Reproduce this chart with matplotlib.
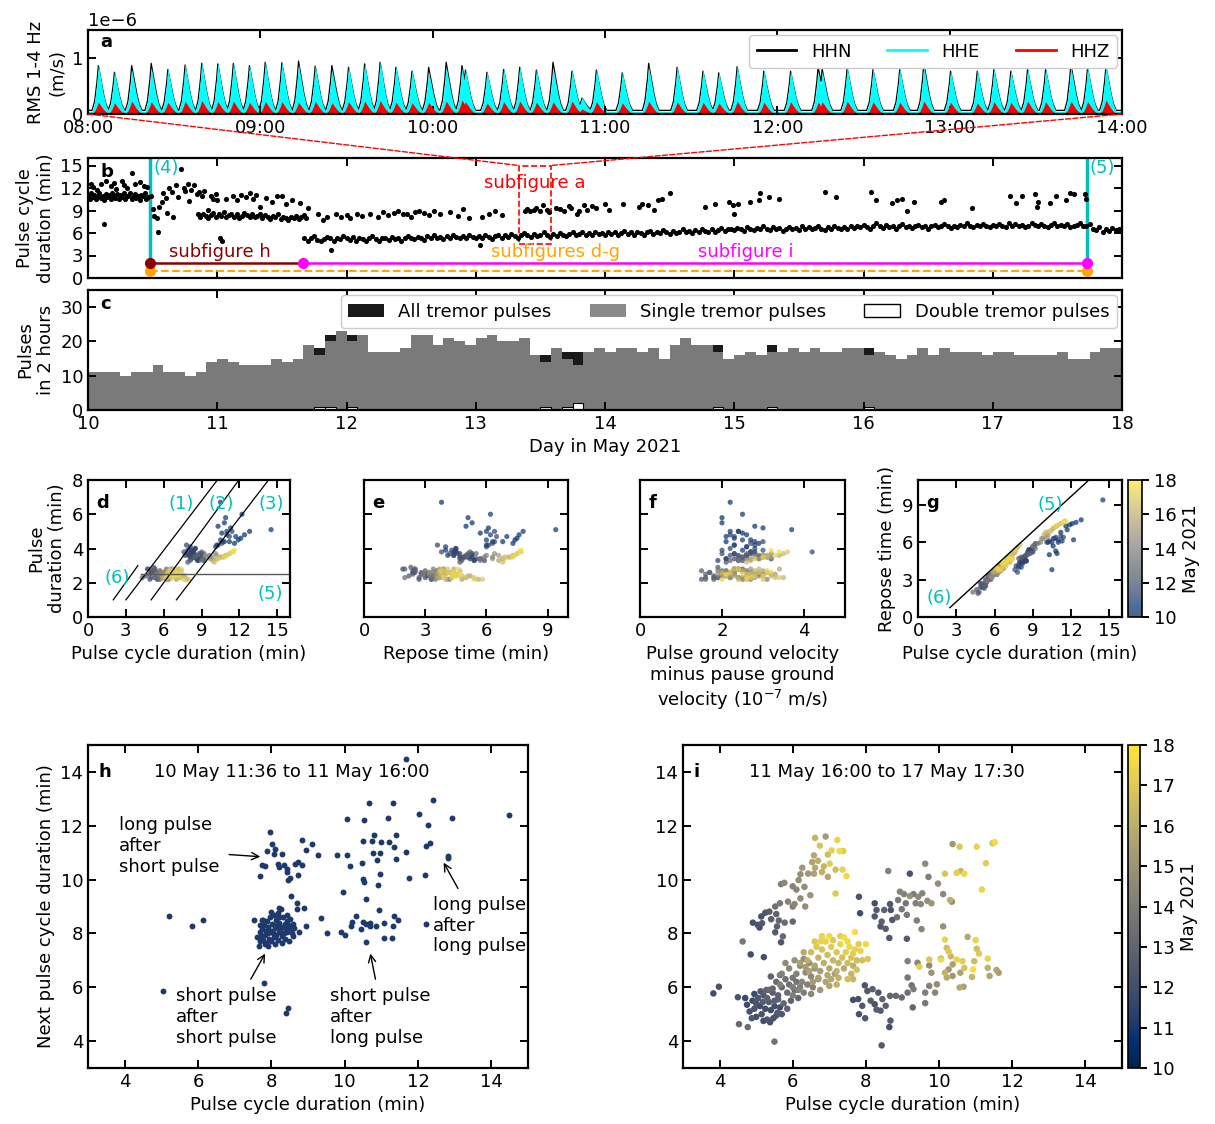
import numpy as np
import matplotlib
matplotlib.use("Agg")
import matplotlib.pyplot as plt
from matplotlib.patches import Rectangle, ConnectionPatch, Patch
from matplotlib.lines import Line2D
from matplotlib.cm import ScalarMappable
from matplotlib.colors import Normalize

# ---------------- panel a: RMS pulses 13 May 08:00-14:00 ----------------
# peak time (minutes after 08:00) and peak RMS (1e-6 m/s) per channel
peak_min = [3.6, 9.2, 15.2, 22.0, 27.8, 33.8, 39.6, 45.2, 50.6, 56.2,
            61.7, 67.5, 73.3, 79.1, 84.9, 90.7, 96.3, 101.7, 107.2, 112.8,
            118.6, 124.7, 130.2, 131.4, 138.9, 144.7, 150.3, 156.1, 161.9, 168.5,
            172.0, 177.0, 186.0, 195.2, 205.1, 214.1, 219.6, 226.0, 235.3, 244.6,
            254.2, 255.6, 264.3, 273.3, 282.6, 291.0, 300.3, 309.6, 315.4, 321.3,
            327.1, 333.4, 342.2, 348.0, 354.4]
hhe_peak = [0.84, 0.72, 0.74, 0.78, 0.77, 0.85, 0.88, 0.87, 0.88, 0.84,
            0.90, 0.89, 0.84, 0.83, 0.74, 0.81, 0.87, 0.90, 0.81, 0.74,
            0.71, 0.80, 0.78, 0.76, 0.72, 0.77, 0.81, 0.76, 0.78, 0.74,
            0.25, 0.76, 0.71, 0.80, 0.81, 0.74, 0.71, 0.82, 0.74, 0.74,
            0.70, 0.72, 0.80, 0.77, 0.77, 0.80, 0.74, 0.74, 0.77, 0.74,
            0.77, 0.77, 0.79, 0.80, 0.83]
hhn_peak = [0.80, 0.68, 0.80, 0.84, 0.73, 0.81, 0.84, 0.83, 0.84, 0.80,
            0.86, 0.85, 0.88, 0.79, 0.80, 0.77, 0.83, 0.86, 0.77, 0.70,
            0.77, 0.86, 0.80, 0.72, 0.68, 0.73, 0.77, 0.72, 0.86, 0.70,
            0.22, 0.72, 0.67, 0.84, 0.77, 0.70, 0.67, 0.78, 0.70, 0.70,
            0.78, 0.74, 0.76, 0.73, 0.73, 0.84, 0.70, 0.70, 0.73, 0.70,
            0.73, 0.73, 0.83, 0.76, 0.79]
hhz_peak = [0.20, 0.19, 0.22, 0.21, 0.20, 0.22, 0.23, 0.21, 0.22, 0.20,
            0.22, 0.21, 0.20, 0.22, 0.19, 0.21, 0.22, 0.23, 0.20, 0.19,
            0.20, 0.22, 0.24, 0.21, 0.19, 0.21, 0.22, 0.20, 0.21, 0.22,
            0.08, 0.21, 0.19, 0.22, 0.21, 0.20, 0.19, 0.22, 0.20, 0.21,
            0.20, 0.21, 0.22, 0.21, 0.20, 0.22, 0.20, 0.19, 0.21, 0.20,
            0.22, 0.21, 0.22, 0.21, 0.24]
base_hhe, base_hhn, base_hhz = 0.05, 0.065, 0.01

# ---------------- panel b: pulse cycle durations ----------------
band1_start, band1_step = 10.0, 0.0125
band1_vals = [11.0, 10.6, 11.3, 10.8, 11.1, 10.5, 10.9, 11.4, 10.7, 11.0,
              10.4, 11.2, 10.8, 11.1, 10.6, 11.3, 10.9, 10.7, 11.2, 10.5,
              11.1, 10.8, 11.4, 10.6, 11.0, 10.9, 11.3, 10.5, 10.8, 11.2,
              10.7, 11.0, 10.4, 11.1, 10.9, 11.3, 10.6, 10.8]
band2_start, band2_step = 10.85, 0.02
band2_vals = [8.5, 8.1, 8.6, 8.3, 8.0, 8.4, 8.7, 8.2, 8.5, 8.3,
              8.8, 8.1, 8.4, 8.6, 8.2, 8.5, 8.0, 8.3, 8.7, 8.4,
              8.2, 8.5, 8.1, 8.3, 8.6, 8.0, 8.4, 8.2, 7.9, 8.3,
              8.1, 8.5, 7.9, 8.2, 8.0, 7.8, 8.2, 8.0, 8.3, 7.9,
              8.1, 8.4, 8.0]
band3_start, band3_step = 11.675, 0.025
band3_vals = [5.4, 5.0, 5.3, 5.6, 5.1, 4.9, 5.2, 5.5, 5.3, 5.0, 5.4, 5.2, 5.6,
              5.3, 5.1, 5.5, 5.0, 5.4, 5.2, 4.9, 5.3, 5.6, 5.2, 5.0, 5.4, 5.3, 5.1, 5.5, 5.2, 5.4, 5.0, 5.3, 5.6,
              5.4, 5.2, 5.5, 5.3, 5.1, 5.6, 5.4, 5.7, 5.3, 5.5, 5.2, 5.6, 5.4, 5.8, 5.5, 5.3, 5.6, 5.4, 5.7, 5.5,
              5.4, 5.6, 5.3, 5.7, 5.5, 5.2, 5.6, 5.8, 5.4, 5.7, 5.5, 5.9, 5.6, 5.4, 5.8, 6.0, 5.7, 5.5, 5.9, 5.6,
              5.8, 6.1, 5.7, 5.5, 5.9, 5.6, 6.0, 5.8, 5.6, 5.9, 6.1, 5.7, 5.9, 6.2, 5.8, 6.0, 5.7, 6.1, 5.9, 6.0,
              5.8, 6.1, 5.9, 6.2, 5.7, 6.0, 6.3, 5.9, 6.1, 5.8, 6.2, 6.0, 5.7, 6.1, 6.3, 5.9, 6.2, 6.0, 6.4, 6.1,
              5.9, 6.3, 6.0, 6.2, 6.5, 6.1, 6.3, 6.0, 6.4, 6.2, 6.6, 6.3, 6.1, 6.5, 6.2, 6.4, 6.7, 6.3, 6.5, 6.6,
              6.4, 6.7, 6.5, 6.3, 6.8, 6.6, 6.4, 6.7, 6.5, 6.9, 6.6, 6.4, 6.8, 6.5, 6.7, 6.3, 6.6, 6.8, 6.5, 6.7,
              6.4, 6.9, 6.6, 6.8, 6.5, 6.7, 6.9, 6.6, 6.4, 6.8, 6.6, 7.0, 6.7, 6.5, 6.8, 6.6, 6.9, 6.7, 7.0, 6.8,
              7.1, 6.8, 6.6, 7.0, 7.3, 6.9, 6.7, 7.1, 6.8, 7.0, 6.6, 6.9, 7.2, 6.8, 7.0, 6.7, 6.9, 7.1, 6.8, 7.0,
              6.6, 6.9, 7.1, 6.8, 7.0, 7.2, 6.9, 6.7, 7.0, 6.8, 7.1, 6.9, 7.3, 7.0, 6.8, 7.1, 6.9, 7.2, 7.0, 6.8,
              7.1, 6.9, 7.2, 7.0, 6.8, 7.3, 7.0, 7.2, 6.9, 7.1, 6.8, 7.0, 7.3, 7.1, 6.9, 7.2, 7.0, 6.8, 7.1, 7.3,
              6.9, 7.1, 7.0, 7.2, 6.8, 7.0, 7.1, 7.3, 7.0, 6.9, 7.2, 6.6, 6.4, 6.8, 6.2, 6.5, 6.3, 6.7, 6.4, 6.6,
              6.5]
b_sparse_day = [10.02, 10.04, 10.07, 10.10, 10.12, 10.14, 10.18, 10.20, 10.22, 10.26,
                10.28, 10.30, 10.34, 10.36, 10.40, 10.43, 10.46, 10.49, 10.50, 10.51,
                10.53, 10.55, 10.54, 10.57, 10.58, 10.60, 10.61, 10.63, 10.65, 10.66,
                10.68, 10.70, 10.72, 10.74, 10.75, 10.77, 10.78, 10.80, 10.82, 10.84,
                10.86, 10.88, 10.90, 10.93, 10.95, 10.97, 10.99, 11.00, 11.02, 11.04,
                11.07, 11.12, 11.15, 11.18, 11.22, 11.25, 11.28, 11.30, 11.33, 11.38,
                11.42, 11.46, 11.50, 11.53, 11.58, 11.64, 11.70,
                11.78, 11.82, 11.85, 11.88, 11.92, 11.96, 12.00, 12.03, 12.08, 12.12,
                12.18, 12.24, 12.28, 12.32, 12.37, 12.40, 12.44, 12.47, 12.50, 12.53,
                12.56, 12.60, 12.64, 12.68, 12.72, 12.80, 12.86, 12.90, 12.95, 13.03,
                13.05, 13.10, 13.15, 13.20,
                13.38, 13.40, 13.42, 13.45, 13.47, 13.50, 13.52, 13.55, 13.57, 13.62,
                13.65, 13.68, 13.72, 13.74, 13.78, 13.80, 13.84, 13.86, 13.90, 13.93,
                14.00, 14.03, 14.14, 14.26, 14.29, 14.33, 14.38, 14.41, 14.44, 14.50,
                14.77, 14.85, 14.96, 14.99, 15.00, 15.03, 15.12, 15.19, 15.20, 15.27,
                15.35, 15.70, 15.79, 16.06, 16.10, 16.22, 16.26, 16.30, 16.34, 16.39,
                16.60, 16.62, 16.84, 17.13, 17.18, 17.23, 17.33, 17.35, 17.34, 17.44,
                17.49, 17.57, 17.60, 17.63, 17.71, 17.72]
b_sparse_val = [12.5, 12.2, 11.8, 12.6, 7.2, 12.9, 12.3, 12.7, 11.9, 13.0,
                12.4, 12.0, 14.0, 12.5, 12.8, 12.3, 12.1, 11.0, 9.2, 8.3,
                8.0, 9.5, 6.1, 10.2, 11.3, 10.7, 8.7, 12.0, 11.5, 8.2,
                12.4, 10.8, 14.5, 12.0, 11.6, 12.6, 10.3, 11.8, 12.4, 11.2,
                11.5, 10.9, 11.6, 9.1, 11.0, 10.5, 11.2, 10.4, 5.3, 4.9,
                10.6, 11.0, 10.4, 11.1, 10.8, 11.4, 10.6, 11.1, 9.5, 10.7,
                10.2, 10.9, 11.0, 9.9, 10.4, 10.0, 9.4,
                8.5, 7.8, 8.2, 3.8, 8.6, 8.1, 8.4, 8.0, 8.6, 8.3,
                8.5, 8.2, 8.8, 8.4, 8.7, 8.9, 8.5, 8.6, 8.2, 8.8,
                9.0, 8.7, 8.4, 8.9, 8.5, 8.8, 8.3, 9.2, 8.0, 4.4,
                8.1, 8.6, 9.0, 8.4,
                9.0, 9.2, 8.9, 9.1, 9.4, 9.0, 9.7, 9.1, 8.8, 9.3,
                9.2, 9.0, 9.6, 9.3, 8.6, 9.0, 9.8, 9.1, 9.6, 9.4,
                9.9, 9.1, 9.9, 9.5, 9.9, 9.7, 9.1, 10.4, 10.6, 11.4,
                9.5, 9.9, 10.2, 9.7, 8.6, 9.9, 10.2, 10.4, 11.3, 10.8,
                10.6, 11.5, 10.8, 11.5, 10.4, 10.0, 10.4, 10.6, 9.0, 10.2,
                10.2, 10.4, 9.4, 10.9, 10.0, 10.9, 11.2, 10.2, 9.5, 10.0,
                10.9, 10.4, 11.3, 11.2, 11.2, 10.6]

# subfigure time windows (day in May 2021)
h_start = 10 + (11 + 36 / 60) / 24
h_end = 11 + 16 / 24
i_end = 17 + (17 + 30 / 60) / 24
zoom_start = 13 + 8 / 24
zoom_end = 13 + 14 / 24

# ---------------- panel c: pulses in 2 hour bins ----------------
single_counts = [11, 11, 11, 10, 11, 11, 13, 11, 11, 10,
                 11, 14, 15, 14, 13, 13, 13, 15, 14, 15,
                 19, 16, 20, 23, 20, 22, 17, 17, 17, 18,
                 22, 22, 19, 21, 20, 19, 21, 22, 20, 20,
                 21, 16, 14, 18, 15, 13, 17, 18, 17, 18,
                 18, 17, 18, 15, 19, 21, 19, 19, 17, 15,
                 16, 17, 16, 17, 17, 18, 17, 18, 17, 17,
                 18, 18, 16, 17, 16, 15, 16, 18, 16, 18,
                 17, 17, 17, 16, 17, 17, 16, 16, 16, 16,
                 17, 15, 15, 17, 18, 18]
double_counts = [0] * 96
for k in [21, 22, 24, 42, 44, 58, 63, 72]:
    double_counts[k] = 1
double_counts[45] = 2

# ---------------- panels d-g: pulses 10 May 11:36 to 17 May 17:30 ----------------
dg_day = [10.50, 10.52, 10.54, 10.56, 10.58, 10.60, 10.62, 10.64, 10.66, 10.68, 10.70, 10.72, 10.74, 10.76, 10.78, 10.80, 10.82, 10.84,
          10.86, 10.89, 10.92, 10.95, 10.98, 11.01, 11.04, 11.07, 11.10, 11.13, 11.16, 11.19, 11.22, 11.25, 11.28,
          11.31, 11.34, 11.37, 11.40, 11.43, 11.46, 11.49, 11.52, 11.55, 11.58, 11.61, 11.64, 11.67, 11.70, 11.72,
          10.90, 11.00, 11.10, 11.20, 11.30, 11.40, 11.50, 11.60,
          11.75, 11.79, 11.83, 11.87, 11.91, 11.95, 11.99, 12.03, 12.07, 12.11, 12.15, 12.19, 12.23, 12.27, 12.31,
          12.35, 12.39, 12.43, 12.47, 12.51, 12.55, 12.59, 12.63, 12.67, 12.71, 12.75, 12.79, 12.83, 12.87, 12.91,
          11.80, 11.95, 12.10, 12.25, 12.40, 12.55, 12.70, 12.85, 13.00, 13.10,
          13.05, 13.12, 13.19, 13.26, 13.33, 13.40, 13.47, 13.54, 13.61, 13.68, 13.75, 13.82, 13.89, 13.96, 14.03,
          14.10, 14.17, 14.24, 14.31, 14.38, 14.45, 14.52, 14.59, 14.66, 14.73, 14.80, 14.87, 14.94, 14.98, 15.00,
          13.40, 13.55, 13.70, 13.85, 14.20, 14.50, 14.85, 15.20,
          15.05, 15.12, 15.19, 15.26, 15.33, 15.40, 15.47, 15.54, 15.61, 15.68, 15.75, 15.82, 15.89, 15.96, 16.03,
          16.10, 16.17, 16.24, 16.31, 16.38, 16.45, 16.52, 16.59, 16.66, 16.73, 16.80, 16.87, 16.94, 17.01, 17.08,
          17.15, 17.22, 17.29, 17.36, 17.43, 17.50, 17.57, 17.62, 17.67, 17.71,
          15.30, 15.50, 15.70, 15.90, 16.10, 16.30, 16.50, 16.70, 16.90, 17.10, 17.30, 17.45, 17.60, 17.70]
dg_cycle = [10.6, 11.2, 10.3, 12.1, 10.9, 11.6, 12.8, 10.5, 11.9, 10.8, 12.4, 11.3, 10.2, 14.5, 11.7, 12.2, 10.7, 11.0,
            8.2, 8.6, 7.9, 8.4, 9.0, 8.1, 8.7, 8.3, 7.7, 8.9, 8.5, 8.0, 8.8, 8.2, 9.2,
            8.4, 7.8, 8.6, 8.3, 9.1, 8.0, 8.5, 8.7, 7.9, 8.4, 8.2, 8.9, 7.6, 8.1, 8.3,
            10.5, 11.0, 10.3, 11.4, 10.8, 10.1, 11.2, 10.6,
            5.0, 5.3, 4.7, 5.5, 5.1, 4.9, 5.6, 5.2, 4.6, 5.4, 5.0, 5.7, 5.3, 4.8, 5.5,
            5.1, 5.8, 5.2, 4.9, 5.6, 5.3, 5.0, 5.7, 5.4, 5.9, 5.2, 5.5, 5.8, 5.3, 4.3,
            8.2, 8.6, 7.9, 8.8, 8.4, 9.0, 8.1, 8.5, 8.7, 9.2,
            5.8, 6.3, 5.5, 6.0, 6.6, 5.7, 6.2, 5.9, 6.4, 5.6, 6.1, 6.5, 5.8, 6.3, 6.0,
            5.4, 6.2, 6.7, 5.9, 6.1, 6.4, 5.7, 6.3, 6.0, 6.6, 5.8, 6.2, 6.5, 5.9, 6.1,
            9.1, 9.4, 9.0, 9.6, 9.8, 10.1, 9.7, 10.2,
            6.6, 7.3, 6.1, 7.0, 6.4, 7.6, 6.8, 5.9, 7.2, 6.5, 7.8, 6.3, 6.9, 7.4, 6.0,
            7.1, 6.7, 7.5, 6.2, 7.0, 6.8, 7.7, 6.4, 7.2, 6.6, 8.0, 6.9, 6.3, 7.3, 6.7,
            7.1, 6.5, 7.6, 6.8, 7.0, 6.2, 7.4, 6.9, 7.2, 6.6,
            10.2, 10.6, 9.9, 10.9, 10.4, 11.2, 10.0, 10.7, 11.5, 10.3, 11.0, 10.8, 11.4, 11.6]
dg_pulse = [4.9, 4.4, 5.3, 4.6, 5.8, 4.3, 5.0, 6.7, 4.5, 5.5, 4.8, 5.2, 4.2, 5.1, 4.7, 6.0, 4.4, 5.0,
            3.8, 3.4, 3.9, 3.5, 3.7, 4.1, 3.3, 3.8, 3.6, 3.4, 4.0, 3.6, 3.5, 3.9, 3.3,
            3.7, 4.2, 3.5, 3.8, 3.4, 3.6, 4.0, 3.3, 3.7, 3.9, 3.5, 3.6, 3.8, 3.4, 3.7,
            4.5, 4.8, 4.2, 5.0, 4.4, 4.1, 4.7, 4.3,
            2.6, 2.3, 2.8, 2.4, 2.7, 2.2, 2.5, 2.9, 2.4, 2.6, 2.3, 2.7, 2.5, 2.8, 2.2,
            2.6, 2.4, 2.7, 2.5, 2.3, 2.8, 2.6, 2.4, 2.5, 2.3, 2.7, 2.2, 2.6, 2.8, 2.3,
            3.4, 3.6, 3.2, 3.7, 3.5, 3.8, 3.3, 3.5, 3.6, 3.7,
            2.4, 2.7, 2.5, 2.3, 2.6, 2.2, 2.8, 2.4, 2.6, 2.3, 2.5, 2.7, 2.4, 2.2, 2.6,
            2.5, 2.3, 2.8, 2.4, 2.6, 2.2, 2.5, 2.7, 2.4, 2.3, 2.6, 2.5, 2.8, 2.3, 2.5,
            3.4, 3.5, 3.3, 3.6, 3.5, 3.7, 3.4, 3.6,
            2.6, 2.3, 2.5, 2.2, 2.7, 2.4, 2.6, 2.3, 2.8, 2.5, 2.2, 2.6, 2.4, 2.7, 2.3,
            2.5, 2.8, 2.4, 2.2, 2.6, 2.5, 2.3, 2.7, 2.4, 2.6, 2.2, 2.8, 2.5, 2.3, 2.6,
            2.4, 2.7, 2.2, 2.5, 2.6, 2.3, 2.8, 2.4, 2.5, 2.3,
            3.4, 3.5, 3.3, 3.6, 3.5, 3.7, 3.2, 3.5, 3.8, 3.4, 3.6, 3.5, 3.8, 3.9]
dg_amp = [2.5, 2.1, 2.8, 2.3, 2.0, 2.9, 2.4, 2.2, 2.7, 2.0, 2.6, 3.0, 2.3, 3.7, 2.1, 2.5, 2.8, 2.2,
          2.7, 2.1, 2.5, 3.0, 2.3, 2.6, 1.9, 2.8, 2.4, 3.2, 2.2, 2.6, 2.9, 2.0, 2.5,
          2.7, 2.3, 3.1, 4.2, 2.1, 2.6, 2.8, 2.4, 2.0, 3.0, 2.5, 2.2, 2.7, 2.9, 2.3,
          2.5, 2.2, 2.8, 2.4, 3.0, 2.6, 2.3, 2.7,
          2.0, 1.6, 2.3, 1.8, 2.5, 1.5, 2.1, 1.9, 2.6, 1.7, 2.2, 2.0, 1.6, 2.4, 1.8,
          2.7, 2.1, 1.5, 2.3, 1.9, 2.5, 1.7, 2.0, 2.2, 1.8, 2.6, 1.6, 2.1, 2.4, 1.9,
          2.3, 2.6, 2.1, 2.8, 2.4, 2.7, 2.2, 2.5, 2.9, 2.6,
          2.6, 2.1, 2.9, 2.4, 2.0, 2.7, 2.3, 3.0, 2.2, 2.5, 2.8, 1.9, 2.6, 3.1, 2.3,
          2.0, 2.7, 2.4, 2.9, 2.2, 2.5, 3.0, 2.1, 2.6, 2.8, 2.3, 1.9, 2.7, 2.4, 3.2,
          2.6, 2.9, 2.4, 3.0, 2.8, 3.2, 2.7, 3.1,
          2.9, 2.2, 3.3, 2.5, 3.0, 2.1, 2.7, 2.4, 3.4, 2.0, 2.6, 3.1, 2.3, 2.8, 3.5,
          2.2, 2.9, 3.2, 2.4, 2.0, 2.7, 3.3, 2.5, 2.1, 2.9, 3.0, 2.3, 2.6, 3.4, 2.2,
          2.8, 3.1, 2.0, 2.5, 3.2, 2.7, 2.4, 3.0, 2.1, 2.6,
          2.9, 3.2, 2.7, 3.4, 3.0, 3.5, 2.6, 3.1, 3.6, 2.8, 3.3, 3.0, 3.4, 3.2]

# ---------------- panel h: next vs current cycle, 10 May 11:36 - 11 May 16:00 ----------------
h_cycle = [11.68, 10.67, 11.31, 12.42, 10.06, 10.54, 11.19, 12.04, 12.28, 12.93,
           14.49, 7.96, 10.49, 10.75, 10.80, 11.41, 11.20, 10.98, 12.34, 12.21,
           11.34, 8.84, 9.10, 8.03, 8.09, 7.88, 8.95, 9.26, 8.30, 8.07,
           9.78, 10.07, 10.77, 10.96, 11.66, 12.83, 12.83, 11.41, 10.88, 7.74,
           7.83, 8.18, 8.34, 8.43, 8.64, 8.84, 8.72, 10.15, 10.48, 8.20,
           8.44, 8.72, 7.68, 8.45, 8.50, 10.51, 10.54, 10.96, 11.76, 12.20,
           10.91, 9.96, 8.53, 10.59, 8.69, 10.94, 8.88, 8.69, 8.22, 5.20,
           6.14, 5.85, 7.54, 7.75, 9.36, 10.30, 10.20, 10.17, 10.49, 10.68,
           10.70, 10.59, 11.06, 11.34, 11.45, 11.31, 12.23, 10.85, 10.45, 8.95,
           8.76, 9.52, 9.89, 10.00, 11.08, 11.29, 10.59, 7.80, 5.04, 8.45,
           8.40,
           7.62, 7.65, 7.68, 7.70, 7.72, 7.75, 7.78, 7.80, 7.82, 7.85,
           7.86, 7.88, 7.90, 7.92, 7.94, 7.96, 7.98, 8.00, 8.02, 8.04,
           8.06, 8.08, 8.10, 8.12, 8.14, 8.16, 8.18, 8.20, 8.22, 8.24,
           8.26, 8.28, 8.30, 8.32, 8.34, 8.36, 8.38, 8.40, 8.42, 8.44,
           8.46, 8.48, 8.50, 8.52, 8.55, 8.58, 8.60, 8.62, 7.76, 7.84,
           8.00, 8.18, 8.30, 8.42, 7.90, 8.10, 8.20, 7.70]
h_next = [14.49, 12.86, 12.86, 12.94, 12.25, 12.22, 12.28, 12.43, 12.04, 12.28,
          12.40, 11.78, 11.45, 11.45, 11.66, 11.67, 11.39, 11.39, 11.35, 11.24,
          11.21, 11.47, 11.33, 11.33, 11.14, 11.08, 11.10, 10.93, 10.96, 10.96,
          10.91, 10.93, 10.99, 10.99, 11.04, 10.86, 10.80, 10.77, 10.74, 10.53,
          10.49, 10.59, 10.53, 10.40, 10.59, 10.55, 10.67, 10.49, 10.61, 10.47,
          10.28, 10.18, 10.13, 10.00, 10.06, 10.04, 9.91, 10.20, 10.07, 10.18,
          9.79, 9.55, 9.40, 9.28, 9.12, 8.87, 8.96, 8.90, 8.93, 8.63,
          8.50, 8.26, 8.48, 8.50, 8.56, 8.63, 8.44, 8.28, 8.41, 8.38,
          8.26, 8.36, 8.38, 8.63, 8.48, 8.28, 8.36, 8.28, 8.17, 8.29,
          8.05, 8.01, 8.05, 7.93, 7.83, 7.83, 7.67, 6.17, 5.87, 5.23,
          5.06,
          7.85, 7.55, 7.72, 8.05, 7.90, 8.15, 7.75, 8.30, 7.95, 8.10,
          7.65, 8.45, 8.00, 8.25, 7.80, 8.60, 8.10, 7.70, 8.35, 8.00,
          8.70, 7.85, 8.20, 8.50, 7.95, 8.30, 7.75, 8.05, 8.40, 8.15,
          8.90, 7.90, 8.25, 8.60, 8.00, 8.35, 7.80, 8.15, 8.45, 8.05,
          8.30, 7.70, 8.20, 8.55, 8.00, 8.35, 7.90, 8.20, 8.50, 7.60,
          8.80, 8.75, 7.65, 8.70, 7.55, 7.60, 8.60, 8.30]

# ---------------- panel i: next vs current cycle, 11 May 16:00 - 17 May 17:30 ----------------
i_cycle = [4.75, 4.82, 4.90, 4.95, 5.00, 5.05, 5.10, 5.15, 5.20, 5.25, 5.30, 5.35, 5.40, 5.45, 5.50,
           5.55, 5.60, 5.65, 5.00, 5.20, 4.88, 5.12, 5.38, 5.58, 4.70, 5.28, 5.47, 5.70, 4.95, 5.18,
           3.83, 3.98, 4.50, 4.53, 4.77, 4.85, 5.21, 5.50,
           5.30, 5.45, 5.55, 5.60, 5.70, 5.75, 5.80, 5.85, 5.90, 5.95, 6.00, 6.05, 6.10, 6.15, 5.40,
           5.65, 5.50, 6.20, 5.35, 5.85, 5.70, 5.90, 6.00, 6.10, 6.20, 6.25, 6.30, 6.35, 6.40, 6.45,
           6.50, 6.55, 6.60, 6.00, 6.15, 5.80, 6.70, 6.30, 5.65, 6.05, 6.75, 6.50,
           6.40, 6.50, 6.60, 6.65, 6.70, 6.75, 6.80, 6.85, 6.90, 6.95, 7.00, 7.05, 7.10, 7.15, 7.20,
           7.25, 7.30, 7.35, 7.40, 7.45, 7.50, 7.55, 7.60, 7.65, 7.70, 7.75, 6.55, 6.70, 6.90, 7.05,
           7.20, 6.45, 6.60, 6.80, 7.00, 7.30, 7.50, 7.80, 7.90, 8.05, 7.20, 6.95, 6.35, 7.40, 6.75,
           7.10, 7.60, 7.25, 6.20, 6.30, 7.65, 7.75, 7.85, 7.70, 7.65, 7.00, 8.00, 7.50,
           6.61, 6.90, 7.22, 6.74, 7.06, 7.28, 7.38, 6.58, 6.96, 6.69, 6.53, 6.26, 6.61, 6.85, 7.01,
           7.17, 7.36, 6.21, 6.42, 6.58, 6.80, 6.96, 7.47, 6.16, 6.00, 5.68, 5.77, 6.32, 6.10, 6.48,
           7.17, 6.21, 5.87, 6.05, 5.65, 6.00, 5.52, 6.34, 5.36, 5.55, 5.25, 5.14, 5.62, 5.78, 5.41,
           4.91, 5.04, 5.16, 5.09, 5.57, 6.00, 5.52, 5.73, 5.68, 4.63,
           8.61, 9.62, 9.20, 9.71, 9.97, 10.11, 10.30, 10.35, 8.93, 9.04, 9.20, 9.30, 9.43, 9.54, 9.68,
           9.79, 9.50, 9.36, 9.09, 8.88, 8.66, 8.24, 7.81, 8.29, 8.50, 8.68, 8.98, 8.85, 8.72, 8.43,
           8.40, 8.54, 8.64, 9.12, 9.12, 9.39, 9.52, 10.11, 7.84, 8.24, 10.16, 10.48, 10.59, 10.69, 10.56,
           11.03, 11.46, 11.52, 10.37, 11.28, 11.17,
           7.97, 8.04, 7.79, 7.65, 7.90, 8.13, 8.24, 8.29, 8.40, 8.45, 8.34, 8.18, 8.66, 7.81, 7.98,
           8.67, 8.64, 8.43, 8.54, 8.82,
           8.98, 9.14, 9.28, 9.14, 9.25, 9.30, 9.14, 9.41, 9.73, 9.62, 9.89, 9.94, 9.73, 9.62, 9.79,
           10.05, 10.26, 10.37, 10.58, 10.37,
           9.46, 9.73, 10.05, 10.16, 10.21, 10.26, 10.32, 10.16, 10.21, 10.48, 10.64, 10.69, 10.78, 10.93, 11.00,
           11.03, 11.09, 10.96, 11.33, 11.33, 11.38, 11.57, 11.63, 10.90, 10.56, 10.67]
i_next = [5.35, 5.10, 5.50, 5.20, 4.90, 5.60, 5.30, 5.00, 5.70, 5.20, 4.80, 5.45, 5.15, 5.80, 5.30,
          4.95, 5.55, 5.25, 5.40, 4.75, 4.85, 5.85, 4.70, 5.05, 5.60, 5.90, 4.85, 5.00, 5.75, 5.45,
          5.77, 6.02, 5.63, 4.63, 4.52, 7.22, 7.12, 3.98,
          5.60, 5.95, 6.20, 5.70, 6.00, 5.40, 6.30, 5.80, 6.10, 5.50, 6.35, 5.90, 6.20, 5.60, 6.40,
          6.45, 5.50, 6.00, 5.90, 5.20, 6.50, 6.70, 6.00, 6.50, 6.80, 6.20, 5.80, 6.55, 6.10, 6.90,
          6.40, 6.00, 6.70, 5.70, 5.90, 6.90, 6.30, 7.05, 6.10, 7.00, 5.90, 5.75,
          7.00, 7.30, 6.80, 7.50, 7.10, 6.60, 7.40, 6.90, 7.70, 7.20, 6.70, 7.50, 7.00, 6.50, 7.30,
          6.90, 7.60, 7.10, 6.70, 7.30, 6.90, 7.50, 7.10, 6.80, 7.40, 7.00, 6.20, 6.35, 6.20, 6.30,
          6.10, 6.60, 7.70, 7.90, 7.90, 7.90, 7.70, 7.60, 7.00, 7.05, 6.60, 6.45, 6.75, 7.85, 7.70,
          7.75, 6.50, 6.35, 6.90, 7.30, 7.25, 6.65, 7.35, 8.05, 6.30, 6.05, 7.60, 6.30,
          11.55, 11.60, 11.47, 11.26, 11.08, 11.06, 11.06, 10.90, 10.93, 10.70, 10.65, 10.44, 10.44, 10.49, 10.59,
          10.37, 10.37, 10.20, 10.22, 10.22, 10.28, 10.10, 10.13, 9.98, 9.75, 9.83, 9.88, 9.73, 9.63, 9.42,
          9.48, 9.30, 9.18, 9.09, 9.12, 9.00, 9.00, 9.00, 8.81, 8.72, 8.77, 8.63, 8.48, 8.40, 8.53,
          8.40, 8.32, 8.38, 8.22, 8.26, 8.44, 8.04, 7.89, 7.67, 7.70,
          10.32, 10.59, 10.22, 10.10, 9.85, 9.46, 9.24, 9.18, 9.55, 9.46, 9.39, 9.46, 9.36, 9.49, 9.21,
          9.12, 9.09, 9.12, 9.12, 9.24, 9.09, 9.12, 9.36, 8.87, 8.87, 8.87, 8.90, 8.60, 8.50, 8.44,
          8.26, 8.17, 7.83, 7.80, 8.69, 8.48, 8.16, 8.26, 8.75, 8.63, 10.22, 10.25, 10.32, 10.22, 11.22,
          11.22, 11.35, 11.39, 11.32, 10.61, 9.63,
          6.07, 5.86, 5.56, 5.53, 5.31, 5.50, 5.37, 5.17, 5.13, 5.56, 5.80, 5.93, 5.68, 5.00, 4.85,
          4.76, 4.52, 3.84, 5.31, 5.68,
          5.62, 5.80, 5.25, 6.36, 6.07, 5.93, 6.97, 6.91, 6.81, 5.80, 5.80, 6.11, 6.05, 5.41, 6.54,
          7.06, 6.66, 6.85, 6.54, 6.42,
          6.76, 7.03, 7.03, 7.77, 7.46, 7.33, 7.15, 6.54, 6.36, 7.03, 6.97, 6.72, 7.87, 6.66, 7.75,
          7.43, 7.25, 6.97, 7.06, 6.72, 6.42, 6.64, 6.54, 6.38, 5.99, 6.02]
i_day = [11.8, 12.1, 11.9, 12.3, 12.0, 12.4, 11.85, 12.2, 12.5, 12.0, 12.3, 12.6, 11.95, 12.7, 12.15,
         12.35, 12.8, 12.05, 12.25, 11.9, 12.45, 12.55, 12.1, 12.65, 11.75, 12.75, 12.2, 12.4, 11.8, 12.6,
         12.0, 12.2, 12.3, 13.2, 13.4, 11.9, 12.1, 13.6,
         12.9, 13.1, 13.3, 12.8, 13.2, 13.0, 13.5, 13.4, 13.6, 12.95, 13.8, 13.3, 13.7, 13.1, 13.0,
         13.9, 12.85, 14.0, 13.2, 12.9, 14.2, 14.5, 14.1, 14.3, 14.6, 14.4, 14.0, 14.7, 14.2, 14.8,
         14.5, 14.3, 14.9, 14.1, 14.4, 14.6, 15.0, 14.7, 14.2, 14.9, 15.1, 14.6,
         16.0, 16.5, 15.6, 17.0, 16.2, 15.4, 16.8, 16.1, 17.3, 16.6, 15.8, 17.1, 16.4, 15.5, 16.9,
         16.3, 17.4, 16.7, 15.9, 17.2, 16.5, 17.5, 16.8, 16.0, 17.3, 16.6, 15.3, 15.5, 15.7, 15.9,
         16.1, 15.6, 17.0, 17.4, 17.6, 17.2, 17.5, 17.1, 16.7, 16.9, 16.2, 15.8, 15.4, 17.6, 17.3,
         17.0, 16.3, 16.1, 15.5, 15.9, 17.2, 16.8, 17.4, 17.7, 16.4, 15.6, 17.5, 16.6,
         16.2, 15.3, 17.4, 16.8, 17.2, 17.6, 17.0, 15.8, 16.5, 16.0, 15.6, 15.2, 15.9, 16.3, 17.1,
         16.6, 17.3, 14.9, 15.1, 15.5, 16.1, 15.7, 17.5, 14.8, 14.3, 14.1, 14.5, 14.7, 14.4, 15.0,
         17.0, 14.6, 14.2, 14.5, 13.9, 14.0, 13.6, 14.8, 12.6, 12.9, 12.4, 12.2, 13.0, 13.3, 12.7,
         12.1, 12.3, 12.5, 12.0, 12.8, 13.1, 12.6, 13.2, 12.4, 13.8,
         14.3, 14.6, 12.2, 14.1, 14.8, 14.5, 16.0, 14.7, 14.4, 14.2, 14.9, 14.0, 14.6, 14.3, 14.8,
         15.0, 14.5, 14.1, 13.7, 13.9, 12.4, 12.1, 12.3, 12.6, 12.9, 12.2, 13.8, 13.5, 12.5, 12.8,
         12.3, 12.7, 12.4, 12.6, 13.9, 14.2, 14.4, 14.9, 12.0, 12.5, 16.9, 17.2, 16.4, 17.5, 17.0,
         17.3, 16.8, 17.6, 15.2, 17.1, 17.4,
         12.3, 12.5, 12.1, 12.0, 12.4, 12.6, 12.2, 12.7, 12.5, 12.9, 12.3, 12.8, 13.0, 12.2, 12.4,
         12.6, 12.1, 12.5, 12.8, 13.2,
         13.3, 13.5, 13.1, 13.8, 13.6, 14.0, 14.2, 14.5, 14.7, 14.1, 14.4, 14.8, 14.3, 13.9, 15.0,
         15.3, 15.1, 15.5, 15.6, 15.2,
         17.2, 16.9, 17.5, 17.3, 16.6, 17.0, 16.4, 16.2, 15.9, 17.4, 17.1, 16.8, 15.8, 17.6, 17.3,
         16.7, 17.0, 16.5, 17.4, 16.1, 15.7, 15.6, 15.4, 16.3, 15.9, 15.5]

# ---------------- style ----------------
plt.rcParams['font.family'] = ['DejaVu Sans']
plt.rcParams['font.size'] = 13
plt.rcParams['axes.linewidth'] = 1.6
plt.rcParams['xtick.direction'] = 'in'
plt.rcParams['ytick.direction'] = 'in'
plt.rcParams['xtick.top'] = True
plt.rcParams['ytick.right'] = True
plt.rcParams['xtick.major.size'] = 6
plt.rcParams['ytick.major.size'] = 6
plt.rcParams['xtick.major.width'] = 1.4
plt.rcParams['ytick.major.width'] = 1.4
plt.rcParams['legend.fontsize'] = 13

CYAN_TXT = (0.0, 0.75, 0.75)
W, H = 1215, 1124


def rect(l, t, r, b):
    return [l / W, 1 - b / H, (r - l) / W, (b - t) / H]


def panel_letter(ax, s, x=0.012, y=0.96):
    ax.text(x, y, s, transform=ax.transAxes, fontweight='bold', va='top', ha='left')


fig = plt.figure(figsize=(12.15, 11.24), dpi=100)

# ---------------- a ----------------
ax_a = fig.add_axes(rect(88, 30, 1122, 114))
t_grid = np.arange(0, 360.05, 0.05)
# pulse outline (minutes around the peak, fraction of the peak value)
rise_fall = np.array([-2.2, -1.3, -0.5, 0.0, 0.7, 1.6, 2.6, 3.6])
shape = np.array([0.0, 0.2, 0.62, 1.0, 0.75, 0.42, 0.15, 0.0])


def rms_trace(heights, base):
    out = np.zeros_like(t_grid)
    for tp, hgt in zip(peak_min, heights):
        out = np.maximum(out, np.interp(t_grid, tp + rise_fall, hgt * shape))
    return (base + out) * 1e-6


hours = 8 + t_grid / 60
hhn = rms_trace(hhn_peak, base_hhn)
hhe = rms_trace(hhe_peak, base_hhe)
hhz = rms_trace(hhz_peak, base_hhz)
ax_a.plot(hours, hhn, color='k', lw=0.9, zorder=1)
ax_a.fill_between(hours, 0, hhe, color='#00ffff', lw=0, zorder=1.5)
ax_a.fill_between(hours, 0, hhz, color='#ff0000', lw=0, zorder=1.6)
ax_a.set_xlim(8, 14)
ax_a.set_ylim(0, 1.5e-6)
ax_a.set_yticks([0, 1e-6])
ax_a.set_xticks(range(8, 15))
ax_a.set_xticklabels(['%02d:00' % hh for hh in range(8, 15)])
ax_a.set_ylabel('RMS 1-4 Hz\n(m/s)')
leg_h = [Line2D([], [], color='k', lw=2), Line2D([], [], color='#00ffff', lw=2),
         Line2D([], [], color='red', lw=2)]
ax_a.legend(leg_h, ['HHN', 'HHE', 'HHZ'], loc='upper right', ncol=3, handlelength=2.2,
            columnspacing=2.0, borderaxespad=0.3, framealpha=1, edgecolor='0.8')
panel_letter(ax_a, 'a')

# ---------------- b ----------------
ax_b = fig.add_axes(rect(88, 158, 1122, 278))
for start, step, vals in [(band1_start, band1_step, band1_vals),
                          (band2_start, band2_step, band2_vals),
                          (band3_start, band3_step, band3_vals)]:
    ax_b.plot(start + step * np.arange(len(vals)), vals, 'o', color='k', ms=3.7, mew=0)
ax_b.plot(b_sparse_day, b_sparse_val, 'o', color='k', ms=3.7, mew=0)
ax_b.axvline(h_start, color=CYAN_TXT, lw=2.5, zorder=1)
ax_b.axvline(i_end, color=CYAN_TXT, lw=2.5, zorder=1)
ax_b.text(h_start + 0.02, 14.7, '(4)', color=CYAN_TXT, va='center')
ax_b.text(i_end + 0.02, 14.7, '(5)', color=CYAN_TXT, va='center')
ax_b.plot([h_start, h_end], [2, 2], color='darkred', lw=1.8, zorder=3)
ax_b.plot([h_end, i_end], [2, 2], color='magenta', lw=1.8, zorder=3)
ax_b.plot([h_start, i_end], [1, 1], color='orange', lw=1.5, ls='--', zorder=3)
ax_b.plot([h_start, i_end], [1, 1], 'o', color='orange', ms=7, zorder=4)
ax_b.plot([h_end, i_end], [2, 2], 'o', color='magenta', ms=7, zorder=4)
ax_b.plot([h_start], [2], 'o', color='darkred', ms=7, zorder=4)
ax_b.text(10.63, 2.3, 'subfigure h', color='darkred', va='bottom')
ax_b.text(13.12, 2.3, 'subfigures d-g', color='orange', va='bottom')
ax_b.text(14.72, 2.3, 'subfigure i', color='magenta', va='bottom')
ax_b.add_patch(Rectangle((zoom_start, 4.5), zoom_end - zoom_start, 10.5, fill=False,
                         ec='red', ls='--', lw=1.2))
ax_b.text((zoom_start + zoom_end) / 2, 12.7, 'subfigure a', color='red', ha='center', va='center')
ax_b.set_xlim(10, 18)
ax_b.set_ylim(0, 16)
ax_b.set_xticks(range(10, 19))
ax_b.set_xticklabels([])
ax_b.set_yticks([0, 3, 6, 9, 12, 15])
ax_b.set_ylabel('Pulse cycle\nduration (min)')
panel_letter(ax_b, 'b')

for xa, xb in [(8, zoom_start), (14, zoom_end)]:
    con = ConnectionPatch(xyA=(xa, 0), coordsA=ax_a.transData, xyB=(xb, 15),
                          coordsB=ax_b.transData, color='red', ls='--', lw=1.0)
    fig.add_artist(con)

# ---------------- c ----------------
ax_c = fig.add_axes(rect(88, 290, 1122, 410))
bin_edges = 10 + np.arange(97) / 12
single = np.array(single_counts)
double = np.array(double_counts)
all_counts = single + 2 * double
ax_c.stairs(all_counts, bin_edges, fill=True, color='#1a1a1a', lw=0)
ax_c.stairs(single, bin_edges, fill=True, color='#7a7a7a', lw=0)
has_d = double > 0
ax_c.bar(bin_edges[:-1][has_d], double[has_d], width=1 / 12, align='edge', color='white',
         edgecolor='k', lw=0.8)
ax_c.set_xlim(10, 18)
ax_c.set_ylim(0, 35)
ax_c.set_yticks([0, 10, 20, 30])
ax_c.set_xticks(range(10, 19))
ax_c.set_xlabel('Day in May 2021')
ax_c.set_ylabel('Pulses\nin 2 hours')
leg_c = [Patch(facecolor='#1a1a1a'), Patch(facecolor='#8a8a8a'),
         Patch(facecolor='white', edgecolor='k', lw=1)]
ax_c.legend(leg_c, ['All tremor pulses', 'Single tremor pulses', 'Double tremor pulses'],
            loc='upper right', ncol=3, handlelength=2.0, columnspacing=2.1,
            borderaxespad=0.3, framealpha=1, edgecolor='0.8')
panel_letter(ax_c, 'c')

# ---------------- d-g ----------------
dg_repose = np.array(dg_cycle) - np.array(dg_pulse)
sc_kw = dict(c=dg_day, cmap='cividis', vmin=10, vmax=18, s=14, alpha=0.7, linewidths=0)

ax_d = fig.add_axes(rect(88, 480, 290, 617))
ax_d.scatter(dg_cycle, dg_pulse, **sc_kw)
for (x0, y0), (x1, y1) in [((2.0, 1.0), (3.95, 3.0)), ((3.0, 1.0), (10.25, 8.0)),
                           ((5.0, 1.0), (11.95, 8.0)), ((7.0, 1.0), (14.3, 8.0))]:
    ax_d.plot([x0, x1], [y0, y1], color='k', lw=0.9)
ax_d.plot([4.2, 16], [2.5, 2.5], color='0.35', lw=1.0)
for s, x, y in [('(1)', 7.4, 6.6), ('(2)', 10.55, 6.6), ('(3)', 14.5, 6.6),
                ('(6)', 2.35, 2.25), ('(5)', 14.4, 1.33)]:
    ax_d.text(x, y, s, color=CYAN_TXT, ha='center', va='center')
ax_d.set_xlim(0, 16)
ax_d.set_ylim(0, 8)
ax_d.set_xticks([0, 3, 6, 9, 12, 15])
ax_d.set_yticks([0, 2, 4, 6, 8])
ax_d.set_xlabel('Pulse cycle duration (min)')
ax_d.set_ylabel('Pulse\nduration (min)')
panel_letter(ax_d, 'd', 0.04, 0.9)

ax_e = fig.add_axes(rect(364, 480, 568, 617))
ax_e.scatter(dg_repose, dg_pulse, **sc_kw)
ax_e.set_xlim(0, 10)
ax_e.set_ylim(0, 8)
ax_e.set_xticks([0, 3, 6, 9])
ax_e.set_yticks([0, 2, 4, 6, 8])
ax_e.tick_params(labelleft=False)
ax_e.set_xlabel('Repose time (min)')
panel_letter(ax_e, 'e', 0.04, 0.9)

ax_f = fig.add_axes(rect(640, 480, 845, 617))
ax_f.scatter(dg_amp, dg_pulse, **sc_kw)
ax_f.set_xlim(0, 5)
ax_f.set_ylim(0, 8)
ax_f.set_xticks([0, 2, 4])
ax_f.set_yticks([0, 2, 4, 6, 8])
ax_f.tick_params(labelleft=False)
ax_f.set_xlabel('Pulse ground velocity\nminus pause ground\nvelocity ($10^{-7}$ m/s)')
panel_letter(ax_f, 'f', 0.04, 0.9)

ax_g = fig.add_axes(rect(918, 480, 1122, 617))
sc_g = ax_g.scatter(dg_cycle, dg_repose, **sc_kw)
ax_g.plot([2.5, 13.3], [0.75, 10.9], color='k', lw=1.0)
ax_g.text(10.4, 9.0, '(5)', color=CYAN_TXT, ha='center', va='center')
ax_g.text(1.7, 1.5, '(6)', color=CYAN_TXT, ha='center', va='center')
ax_g.set_xlim(0, 16)
ax_g.set_ylim(0, 11)
ax_g.set_xticks([0, 3, 6, 9, 12, 15])
ax_g.set_yticks([0, 3, 6, 9])
ax_g.set_xlabel('Pulse cycle duration (min)')
ax_g.set_ylabel('Repose time (min)')
panel_letter(ax_g, 'g', 0.04, 0.9)

cax_g = fig.add_axes(rect(1128, 480, 1142, 617))
cb_g = fig.colorbar(sc_g, cax=cax_g, ticks=[10, 12, 14, 16, 18])
cb_g.set_label('May 2021')
cb_g.ax.tick_params(direction='out', length=5, left=False, right=True)
cb_g.outline.set_linewidth(1.2)

# ---------------- h ----------------
ax_h = fig.add_axes(rect(88, 745, 528, 1068))
ax_h.scatter(h_cycle, h_next, s=18, color='#1e3a6c', linewidths=0)
arrow_kw = dict(arrowstyle='->', color='k', lw=1.0, shrinkA=0, shrinkB=0)
ax_h.annotate('', xy=(7.7, 10.85), xytext=(6.85, 10.93), arrowprops=arrow_kw)
ax_h.annotate('', xy=(7.83, 7.25), xytext=(7.44, 6.3), arrowprops=arrow_kw)
ax_h.annotate('', xy=(10.7, 7.25), xytext=(10.84, 6.3), arrowprops=arrow_kw)
ax_h.annotate('', xy=(12.7, 10.63), xytext=(13.09, 9.67), arrowprops=arrow_kw)
ax_h.text(3.85, 12.35, 'long pulse\nafter\nshort pulse', va='top', ha='left')
ax_h.text(5.4, 6.0, 'short pulse\nafter\nshort pulse', va='top', ha='left')
ax_h.text(9.6, 6.0, 'short pulse\nafter\nlong pulse', va='top', ha='left')
ax_h.text(12.4, 9.4, 'long pulse\nafter\nlong pulse', va='top', ha='left')
ax_h.text(4.8, 14.0, '10 May 11:36 to 11 May 16:00', va='center', ha='left')
ax_h.text(3.3, 14.0, 'h', fontweight='bold', va='center', ha='left')
ax_h.set_xlim(3, 15)
ax_h.set_ylim(3, 15)
ax_h.set_xticks([4, 6, 8, 10, 12, 14])
ax_h.set_yticks([4, 6, 8, 10, 12, 14])
ax_h.set_xlabel('Pulse cycle duration (min)')
ax_h.set_ylabel('Next pulse cycle duration (min)')

# ---------------- i ----------------
ax_i = fig.add_axes(rect(683, 745, 1122, 1068))
order = np.argsort(i_day, kind='stable')
ax_i.scatter(np.array(i_cycle)[order], np.array(i_next)[order], c=np.array(i_day)[order],
             cmap='cividis', vmin=10, vmax=18, s=22, linewidths=0)
ax_i.text(4.8, 14.0, '11 May 16:00 to 17 May 17:30', va='center', ha='left')
ax_i.text(3.3, 14.0, 'i', fontweight='bold', va='center', ha='left')
ax_i.set_xlim(3, 15)
ax_i.set_ylim(3, 15)
ax_i.set_xticks([4, 6, 8, 10, 12, 14])
ax_i.set_yticks([4, 6, 8, 10, 12, 14])
ax_i.set_xlabel('Pulse cycle duration (min)')

cax_i = fig.add_axes(rect(1128, 745, 1140, 1068))
cb_i = fig.colorbar(ScalarMappable(norm=Normalize(10, 18), cmap='cividis'), cax=cax_i,
                    ticks=range(10, 19))
cb_i.set_label('May 2021')
cb_i.ax.tick_params(direction='out', length=5, left=False, right=True)
cb_i.outline.set_linewidth(1.2)

fig.savefig('out.png', dpi=100)
